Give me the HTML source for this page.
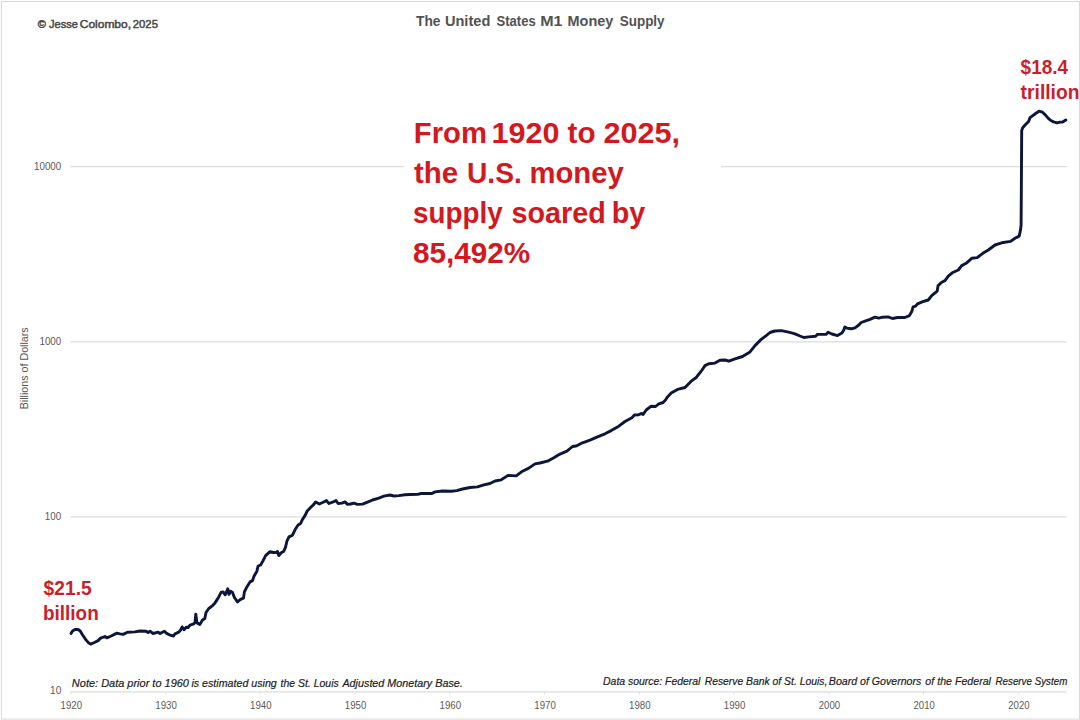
<!DOCTYPE html>
<html><head><meta charset="utf-8"><title>The United States M1 Money Supply</title>
<style>
html,body{margin:0;padding:0;background:#fff;}
body{width:1080px;height:720px;overflow:hidden;font-family:"Liberation Sans",sans-serif;}
svg{display:block;position:absolute;left:0;top:0;}
text{font-family:"Liberation Sans",sans-serif;}
</style></head><body>
<svg width="1080" height="720" viewBox="0 0 1080 720">
<rect x="0" y="0" width="1080" height="720" fill="#ffffff"/>
<!-- frame -->
<rect x="1.5" y="1.5" width="1078" height="717.6" fill="none" stroke="#dadada" stroke-width="1"/>
<!-- gridlines -->
<g stroke="#dcdcdc" stroke-width="1.3" fill="none">
<line x1="70.5" y1="166.7" x2="1066.5" y2="166.7"/>
<line x1="70.5" y1="341.85" x2="1066.5" y2="341.85"/>
<line x1="70.5" y1="516.95" x2="1066.5" y2="516.95"/>
</g>
<!-- x axis -->
<g stroke="#dcdcdc" stroke-width="1.3" fill="none">
<line x1="70.5" y1="691.95" x2="1066.5" y2="691.95"/>
<path d="M70.8,691.95v2.8 M165.6,691.95v2.8 M260.3,691.95v2.8 M355.1,691.95v2.8 M449.8,691.95v2.8 M544.5,691.95v2.8 M639.3,691.95v2.8 M734.0,691.95v2.8 M828.8,691.95v2.8 M923.5,691.95v2.8 M1018.3,691.95v2.8" stroke-width="1" stroke="#e0e0e0"/>
</g>
<!-- white box behind annotation -->
<rect x="404" y="108" width="317" height="170" fill="#ffffff"/>
<!-- data line -->
<path d="M71.0,633.5 L72.5,631.0 L75.0,629.5 L78.1,629.5 L80.2,631.0 L82.5,634.8 L85.6,639.4 L88.8,643.1 L90.6,644.1 L94.4,642.5 L98.1,640.6 L100.6,638.1 L105.0,636.5 L106.9,637.8 L111.2,636.0 L116.9,633.1 L120.0,633.8 L123.1,634.4 L127.5,632.2 L135.0,631.9 L140.0,631.0 L146.2,631.2 L148.1,632.5 L150.0,631.2 L153.1,633.5 L158.1,632.2 L160.0,633.5 L164.4,631.2 L166.2,633.1 L169.4,634.8 L173.5,636.0 L175.0,633.8 L178.8,632.2 L180.6,630.0 L182.2,626.9 L184.0,629.8 L186.2,627.2 L188.1,627.5 L190.0,625.2 L193.8,623.9 L195.0,622.3 L195.8,614.2 L197.0,622.9 L199.8,624.4 L202.5,620.0 L204.8,618.5 L206.0,612.5 L208.8,608.5 L211.9,606.2 L215.0,602.9 L218.1,598.1 L221.2,592.2 L223.1,591.9 L225.2,594.8 L227.8,588.8 L229.0,594.4 L230.6,591.2 L232.5,592.5 L234.4,597.5 L237.5,601.9 L240.6,599.4 L243.5,598.1 L244.4,591.9 L246.9,586.9 L250.0,581.9 L252.5,580.6 L254.0,576.2 L256.9,571.2 L258.1,566.0 L260.6,565.0 L263.1,560.6 L265.6,555.6 L270.0,551.6 L273.1,552.5 L276.2,552.5 L277.5,551.5 L278.8,555.6 L281.2,552.8 L283.8,551.3 L285.6,546.9 L286.9,541.2 L289.0,536.9 L292.5,535.2 L295.0,529.8 L298.1,525.0 L300.6,523.5 L302.5,519.4 L305.0,515.6 L307.2,511.0 L310.6,507.5 L313.8,504.4 L315.6,501.9 L319.4,504.0 L323.1,502.2 L326.5,500.6 L329.0,503.5 L332.5,502.2 L336.0,500.6 L338.1,503.5 L341.9,503.1 L345.0,501.9 L347.5,504.4 L350.6,504.0 L353.8,503.1 L357.5,504.4 L362.5,504.1 L367.5,502.2 L372.5,500.0 L378.8,498.1 L383.8,496.2 L390.0,495.0 L393.8,496.0 L398.8,495.6 L405.0,494.8 L410.0,494.5 L417.5,494.4 L421.2,493.5 L431.9,493.5 L435.0,491.9 L442.5,491.0 L451.2,491.2 L456.9,490.6 L462.5,489.0 L470.0,487.5 L477.5,486.9 L483.8,484.8 L490.0,483.5 L495.0,481.0 L501.2,479.8 L508.1,475.4 L516.2,475.9 L522.5,471.2 L528.8,468.1 L535.0,463.9 L540.0,463.0 L547.5,461.2 L553.8,457.8 L560.0,454.1 L566.9,451.2 L572.5,446.5 L576.2,446.0 L582.5,442.8 L590.0,440.2 L597.5,436.9 L605.0,433.8 L611.2,430.6 L618.8,426.2 L625.0,421.5 L631.9,417.8 L634.4,415.0 L638.8,414.8 L641.2,413.5 L643.1,414.4 L646.2,410.0 L651.2,406.2 L655.6,406.5 L658.8,403.8 L663.1,402.5 L665.5,400.0 L667.5,396.9 L671.2,393.1 L677.5,389.4 L685.0,387.5 L691.2,381.2 L696.2,377.5 L701.2,371.2 L705.0,365.6 L708.8,363.8 L715.0,363.1 L720.0,360.2 L725.0,360.0 L728.8,361.2 L735.0,358.8 L742.5,356.5 L750.0,351.9 L755.0,345.6 L761.2,339.4 L766.2,335.6 L770.0,332.5 L775.0,331.0 L781.2,330.6 L787.5,331.9 L792.5,333.1 L795.0,333.8 L800.0,336.0 L803.8,337.5 L808.8,336.9 L815.6,336.2 L817.5,334.4 L826.2,334.4 L828.1,332.2 L831.9,334.0 L837.5,335.6 L841.9,333.1 L843.8,330.0 L844.8,326.9 L846.9,328.1 L851.2,328.8 L855.0,327.8 L858.8,325.0 L861.2,322.5 L865.0,321.2 L870.0,319.4 L875.0,317.2 L878.8,318.1 L882.5,317.2 L888.1,316.9 L892.5,318.5 L897.5,317.5 L905.0,317.5 L909.4,315.6 L911.9,311.2 L913.1,306.9 L915.6,306.2 L917.5,303.8 L922.8,301.7 L928.3,300.0 L931.7,295.6 L937.2,291.1 L938.1,285.6 L941.7,282.2 L945.0,280.6 L948.3,276.1 L952.2,272.8 L958.3,270.0 L961.7,265.6 L966.1,263.3 L971.7,258.3 L977.2,257.6 L982.8,253.3 L988.3,250.0 L995.0,245.0 L1001.7,242.8 L1010.6,241.4 L1015.0,238.3 L1019.2,236.1 L1020.6,229.4 L1021.1,225.0 L1021.4,180.0 L1021.7,130.6 L1022.7,127.8 L1025.8,124.3 L1028.6,121.5 L1030.0,117.7 L1032.8,115.6 L1035.6,113.5 L1039.0,111.2 L1042.5,112.2 L1045.3,114.9 L1048.1,118.1 L1050.8,120.5 L1053.6,121.9 L1057.1,122.9 L1059.9,122.1 L1062.6,122.1 L1065.8,120.1" fill="none" stroke="#0b163a" stroke-width="2.9" stroke-linejoin="round" stroke-linecap="round"/>
<!-- tick labels -->
<g font-size="10.0" fill="#5a5a5a">
<text x="34.07" y="169.89999999999998" textLength="27.19" lengthAdjust="spacingAndGlyphs">10000</text>
<text x="39.47" y="345.05" textLength="21.79" lengthAdjust="spacingAndGlyphs">1000</text>
<text x="44.86" y="520.1500000000001" textLength="16.39" lengthAdjust="spacingAndGlyphs">100</text>
<text x="50.04" y="694.35" textLength="11.22" lengthAdjust="spacingAndGlyphs">10</text>
<text x="60.58" y="708.8" textLength="21.47" lengthAdjust="spacingAndGlyphs">1920</text>
<text x="155.33" y="708.8" textLength="21.47" lengthAdjust="spacingAndGlyphs">1930</text>
<text x="250.08" y="708.8" textLength="21.47" lengthAdjust="spacingAndGlyphs">1940</text>
<text x="344.83" y="708.8" textLength="21.47" lengthAdjust="spacingAndGlyphs">1950</text>
<text x="439.58" y="708.8" textLength="21.47" lengthAdjust="spacingAndGlyphs">1960</text>
<text x="534.33" y="708.8" textLength="21.47" lengthAdjust="spacingAndGlyphs">1970</text>
<text x="629.08" y="708.8" textLength="21.47" lengthAdjust="spacingAndGlyphs">1980</text>
<text x="723.83" y="708.8" textLength="21.47" lengthAdjust="spacingAndGlyphs">1990</text>
<text x="818.82" y="708.8" textLength="21.22" lengthAdjust="spacingAndGlyphs">2000</text>
<text x="913.57" y="708.8" textLength="21.22" lengthAdjust="spacingAndGlyphs">2010</text>
<text x="1008.32" y="708.8" textLength="21.22" lengthAdjust="spacingAndGlyphs">2020</text>
</g>
<!-- y axis title -->
<text transform="translate(28.0,368.3) rotate(-90)" font-size="10.2" fill="#555555" text-anchor="middle" textLength="82" lengthAdjust="spacingAndGlyphs">Billions of Dollars</text>
<!-- title -->
<g font-size="15.3" font-weight="bold" fill="#525252">
<text x="416.0" y="26.0" textLength="24.44" lengthAdjust="spacingAndGlyphs">The</text>
<text x="444.92" y="26.0" textLength="45.42" lengthAdjust="spacingAndGlyphs">United</text>
<text x="496.5" y="26.0" textLength="39.23" lengthAdjust="spacingAndGlyphs">States</text>
<text x="540.2" y="26.0" textLength="22.3" lengthAdjust="spacingAndGlyphs">M1</text>
<text x="567.5" y="26.0" textLength="45.81" lengthAdjust="spacingAndGlyphs">Money</text>
<text x="619.69" y="26.0" textLength="44.93" lengthAdjust="spacingAndGlyphs">Supply</text>
</g>
<!-- copyright -->
<g font-size="11.3" fill="#4a4a4a" stroke="#4a4a4a" stroke-width="0.5">
<text x="37.85" y="28.3" textLength="8.12" lengthAdjust="spacingAndGlyphs">©</text>
<text x="49.05" y="28.3" textLength="28.92" lengthAdjust="spacingAndGlyphs">Jesse</text>
<text x="79.72" y="28.3" textLength="51.33" lengthAdjust="spacingAndGlyphs">Colombo,</text>
<text x="132.75" y="28.3" textLength="25.19" lengthAdjust="spacingAndGlyphs">2025</text>
</g>
<!-- big annotation -->
<g font-size="28.8" font-weight="bold" fill="#d3181e">
<text x="413.87" y="142.6" textLength="73.11" lengthAdjust="spacingAndGlyphs">From</text>
<text x="491.59" y="142.6" textLength="67.95" lengthAdjust="spacingAndGlyphs">1920</text>
<text x="567.6" y="142.6" textLength="27.97" lengthAdjust="spacingAndGlyphs">to</text>
<text x="603.44" y="142.6" textLength="76.67" lengthAdjust="spacingAndGlyphs">2025,</text>
<text x="413.9" y="182.8" textLength="44.23" lengthAdjust="spacingAndGlyphs">the</text>
<text x="466.98" y="182.8" textLength="54.89" lengthAdjust="spacingAndGlyphs">U.S.</text>
<text x="529.47" y="182.8" textLength="94.24" lengthAdjust="spacingAndGlyphs">money</text>
<text x="413.03" y="223.0" textLength="89.59" lengthAdjust="spacingAndGlyphs">supply</text>
<text x="511.5" y="223.0" textLength="94.24" lengthAdjust="spacingAndGlyphs">soared</text>
<text x="611.71" y="223.0" textLength="33.51" lengthAdjust="spacingAndGlyphs">by</text>
<text x="412.97" y="263.2" textLength="117.25" lengthAdjust="spacingAndGlyphs">85,492%</text>
</g>
<!-- end labels -->
<g font-size="19.8" font-weight="bold" fill="#cc1d2a">
<text x="43.6" y="594.8" textLength="48.18" lengthAdjust="spacingAndGlyphs">$21.5</text>
<text x="43.02" y="620.0" textLength="55.7" lengthAdjust="spacingAndGlyphs">billion</text>
<text x="1020.6" y="73.5" textLength="47.48" lengthAdjust="spacingAndGlyphs">$18.4</text>
<text x="1020.6" y="99.1" textLength="58.93" lengthAdjust="spacingAndGlyphs">trillion</text>
</g>
<!-- notes -->
<g font-size="10.0" font-style="italic" fill="#1f1f1f" stroke="#1f1f1f" stroke-width="0.2">
<text x="71.87" y="687.0" textLength="117.1" lengthAdjust="spacingAndGlyphs">Note: Data prior to 1960</text>
<text x="191.44" y="687.0" textLength="85.33" lengthAdjust="spacingAndGlyphs">is estimated using</text>
<text x="280.53" y="687.0" textLength="58.18" lengthAdjust="spacingAndGlyphs">the St. Louis</text>
<text x="342.44" y="687.0" textLength="120.33" lengthAdjust="spacingAndGlyphs">Adjusted Monetary Base.</text>
<text x="603.09" y="685.2" textLength="97.27" lengthAdjust="spacingAndGlyphs">Data source: Federal</text>
<text x="704.69" y="685.2" textLength="122.58" lengthAdjust="spacingAndGlyphs">Reserve Bank of St. Louis,</text>
<text x="828.88" y="685.2" textLength="92.43" lengthAdjust="spacingAndGlyphs">Board of Governors</text>
<text x="925.38" y="685.2" textLength="65.58" lengthAdjust="spacingAndGlyphs">of the Federal</text>
<text x="995.51" y="685.2" textLength="71.81" lengthAdjust="spacingAndGlyphs">Reserve System</text>
</g>
</svg>
</body></html>
